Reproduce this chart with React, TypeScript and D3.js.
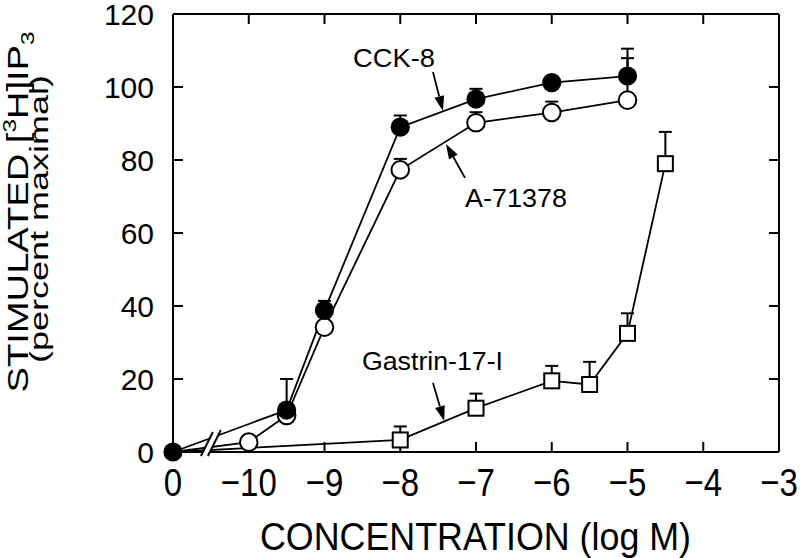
import React from 'react';
import * as d3 from 'd3';

// ---- axis ticks ----
const xTickValues = [-11, -10, -9, -8, -7, -6, -5, -4, -3];
const xTickLabels = ['0', '\u221210', '\u22129', '\u22128', '\u22127', '\u22126', '\u22125', '\u22124', '\u22123'];
const xInnerTicks = [-10, -9, -8, -7, -6, -5, -4];
const yTickValues = [0, 20, 40, 60, 80, 100, 120];
const yInnerTicks = [20, 40, 60, 80, 100];

// the control point (no agonist, labelled "0") is drawn at this axis position
const CONTROL_POS = -11;
const BREAK_AT = -10.5;

// ---- series (x = log M, 0 = control) ----
const cckX = [0, -9.5, -9, -8, -7, -6, -5];
const cckY = [0, 11.5, 38.8, 89, 96.7, 101.2, 103];
const cckErr = [0, 8.5, 2.6, 3.2, 2.8, 0, 7.5];

const a71378X = [0, -10, -9.5, -9, -8, -7, -6, -5];
const a71378Y = [0, 2.7, 10, 34.2, 77.3, 90.2, 93, 96.4];
const a71378Err = [0, 0, 0, 0, 3, 2.9, 3, 11.5];

const gastrinX = [0, -8, -7, -6, -5.5, -5, -4.5];
const gastrinY = [0, 3.3, 12, 19.5, 18.5, 32.5, 79];
const gastrinErr = [0, 3.7, 4, 4.1, 6.2, 5.5, 8.7];

// ---- annotations (data coordinates) ----
const labelNames = ['CCK-8', 'A-71378', 'Gastrin-17-I'];
const labelX = [-8.624, -7.145, -8.505];
const labelY = [105.5, 67.1, 22.5];
const labelWidths = [82, 102, 141];
const arrowFromX = [-7.568, -7.145, -7.568];
const arrowFromY = [104.1, 75.1, 18.9];
const arrowToX = [-7.436, -7.396, -7.42];
const arrowToY = [93.4, 84.4, 8.5];

const FONT = '"Liberation Sans", Arial, Helvetica, sans-serif';

type Pt = { x: number; y: number; e: number };
const zip = (xs: number[], ys: number[], es: number[]): Pt[] =>
  xs.map((v, i) => ({ x: v, y: ys[i], e: es[i] }));

export default function App() {
  const x = d3.scaleLinear().domain([-11, -3]).range([173, 779]);
  const y = d3.scaleLinear().domain([0, 120]).range([452, 14]);
  const px = (v: number) => x(v === 0 ? CONTROL_POS : v);

  const line = d3
    .line<Pt>()
    .x((d) => px(d.x))
    .y((d) => y(d.y));

  const cck = zip(cckX, cckY, cckErr);
  const a71 = zip(a71378X, a71378Y, a71378Err);
  const gas = zip(gastrinX, gastrinY, gastrinErr);

  const left = x.range()[0];
  const right = x.range()[1];
  const top = y.range()[1];
  const bottom = y.range()[0];
  const tick = 10;

  const bx = x(BREAK_AT);

  const errBars = (pts: Pt[], key: string) =>
    pts
      .filter((d) => d.e > 0)
      .map((d, i) => (
        <g key={key + i} stroke="#000" strokeWidth={2}>
          <line x1={px(d.x)} x2={px(d.x)} y1={y(d.y)} y2={y(d.y + d.e)} />
          <line x1={px(d.x) - 6.5} x2={px(d.x) + 6.5} y1={y(d.y + d.e)} y2={y(d.y + d.e)} />
        </g>
      ));

  const arrows = arrowFromX.map((fx, i) => {
    const x1 = x(fx), y1 = y(arrowFromY[i]);
    const x2 = x(arrowToX[i]), y2 = y(arrowToY[i]);
    const dx = x2 - x1, dy = y2 - y1;
    const len = Math.hypot(dx, dy);
    const ux = dx / len, uy = dy / len;
    const hl = 15, hw = 5;
    const bxp = x2 - ux * hl, byp = y2 - uy * hl;
    const pts = [
      [x2, y2],
      [bxp - uy * hw, byp + ux * hw],
      [bxp + uy * hw, byp - ux * hw],
    ];
    return (
      <g key={'arr' + i}>
        <line x1={x1} y1={y1} x2={bxp} y2={byp} stroke="#000" strokeWidth={1.8} />
        <polygon points={pts.map((p) => p.join(',')).join(' ')} fill="#000" />
      </g>
    );
  });

  return (
    <svg
      width={800}
      height={558}
      viewBox="0 0 800 558"
      style={{ position: 'absolute', left: 0, top: 0, background: '#fff' }}
      fontFamily={FONT}
    >
      <rect x={0} y={0} width={800} height={558} fill="#fff" />

      {/* frame */}
      <g stroke="#000" strokeWidth={2} fill="none">
        <line x1={left} x2={right} y1={top} y2={top} />
        <line x1={left} x2={left} y1={top} y2={bottom} />
        <line x1={right} x2={right} y1={top} y2={bottom} />
        <line x1={left} x2={right} y1={bottom} y2={bottom} />
        {xInnerTicks.map((t) => (
          <g key={'xt' + t}>
            <line x1={x(t)} x2={x(t)} y1={bottom} y2={bottom - tick} />
            <line x1={x(t)} x2={x(t)} y1={top} y2={top + tick} />
          </g>
        ))}
        {yInnerTicks.map((t) => (
          <g key={'yt' + t}>
            <line x1={left} x2={left + tick} y1={y(t)} y2={y(t)} />
            <line x1={right} x2={right - tick} y1={y(t)} y2={y(t)} />
          </g>
        ))}
      </g>

      {/* data lines */}
      <g fill="none" stroke="#000" strokeWidth={1.8}>
        <path d={line(gas) || ''} />
        <path d={line(a71) || ''} />
        <path d={line(cck) || ''} />
      </g>

      {/* axis break */}
      <polygon
        points={`${bx - 9},${bottom + 4} ${bx + 3},${bottom - 20} ${bx + 9},${bottom - 20} ${bx - 3},${bottom + 4}`}
        fill="#fff"
      />
      <g stroke="#000" strokeWidth={2}>
        <line x1={bx - 10} y1={bottom + 4} x2={bx + 2} y2={bottom - 20} />
        <line x1={bx - 3} y1={bottom + 4} x2={bx + 10} y2={bottom - 22} />
      </g>

      {/* error bars */}
      {errBars(gas, 'ge')}
      {errBars(a71, 'ae')}
      {errBars(cck, 'ce')}

      {/* markers */}
      {gas
        .filter((d) => d.x !== 0)
        .map((d, i) => (
          <rect
            key={'gm' + i}
            x={px(d.x) - 7.5}
            y={y(d.y) - 7.5}
            width={15}
            height={15}
            fill="#fff"
            stroke="#000"
            strokeWidth={2}
          />
        ))}
      {a71
        .filter((d) => d.x !== 0)
        .map((d, i) => (
          <circle key={'am' + i} cx={px(d.x)} cy={y(d.y)} r={8.8} fill="#fff" stroke="#000" strokeWidth={2} />
        ))}
      {cck.map((d, i) => (
        <circle key={'cm' + i} cx={px(d.x)} cy={y(d.y)} r={9.6} fill="#000" />
      ))}

      {/* arrows + labels */}
      {arrows}
      {labelNames.map((n, i) => (
        <text
          key={'lb' + i}
          x={x(labelX[i])}
          y={y(labelY[i])}
          fontSize={25}
          textLength={labelWidths[i]}
          lengthAdjust="spacingAndGlyphs"
        >
          {n}
        </text>
      ))}

      {/* y tick labels */}
      {yTickValues.map((t) => (
        <text key={'yl' + t} x={154} y={y(t) + 11} fontSize={30} textAnchor="end">
          {t}
        </text>
      ))}

      {/* x tick labels */}
      {xTickValues.map((t, i) => (
        <text
          key={'xl' + t}
          transform={`translate(${x(t)},496) scale(1,1.2)`}
          fontSize={33}
          textAnchor="middle"
        >
          {xTickLabels[i]}
        </text>
      ))}

      {/* axis titles */}
      <text
        transform={`translate(${(left + right) / 2 - 0.5},550) scale(1,1.1)`}
        fontSize={35}
        textAnchor="middle"
        textLength={431}
        lengthAdjust="spacingAndGlyphs"
      >
        CONCENTRATION (log M)
      </text>
      <text transform="translate(28,212) rotate(-90)" fontSize={30} textAnchor="middle" textLength={361} lengthAdjust="spacingAndGlyphs">
        STIMULATED [<tspan dy={-12} fontSize={19}>3</tspan>
        <tspan dy={12}>H]IP</tspan>
        <tspan dy={6} fontSize={19}>3</tspan>
      </text>
      <text transform="translate(48,219) rotate(-90)" fontSize={26} textAnchor="middle" textLength={288} lengthAdjust="spacingAndGlyphs">
        (percent maximal)
      </text>
    </svg>
  );
}
